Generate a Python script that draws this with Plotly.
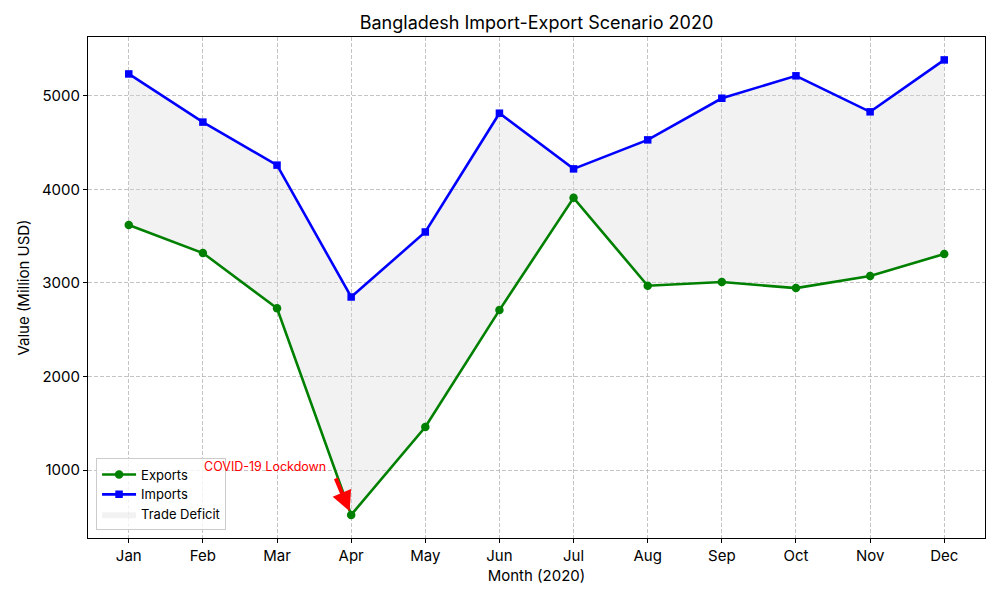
import plotly.graph_objects as go

months = ["Jan", "Feb", "Mar", "Apr", "May", "Jun", "Jul", "Aug", "Sep", "Oct", "Nov", "Dec"]
exports = [3620, 3320, 2730, 520, 1460, 2710, 3910, 2970, 3010, 2945, 3075, 3310]
imports = [5235, 4720, 4260, 2850, 3545, 4815, 4220, 4530, 4975, 5215, 4830, 5385]

FONT = "Inter, DejaVu Sans, sans-serif"

fig = go.Figure()
# fill base (hidden)
fig.add_trace(go.Scatter(x=months, y=exports, mode="lines", line=dict(width=0, color="rgba(0,0,0,0)"),
                         showlegend=False, hoverinfo="skip"))
fig.add_trace(go.Scatter(x=months, y=imports, mode="lines", line=dict(width=0, color="rgba(0,0,0,0)"),
                         fill="tonexty", fillcolor="rgba(211,211,211,0.3)", name="Trade Deficit",
                         legendrank=3))
fig.add_trace(go.Scatter(x=months, y=exports, mode="lines+markers", name="Exports",
                         line=dict(color="green", width=2.6),
                         marker=dict(symbol="circle", size=8.5, color="green"), legendrank=1))
fig.add_trace(go.Scatter(x=months, y=imports, mode="lines+markers", name="Imports",
                         line=dict(color="blue", width=2.6),
                         marker=dict(symbol="square", size=7.5, color="blue"), legendrank=2))

# annotation text and arrow
fig.add_annotation(x=months[3], y=exports[3], text="", showarrow=True,
                   ax=-16, ay=-38, arrowhead=2, arrowsize=1, arrowwidth=4,
                   arrowcolor="red", standoff=4)
fig.add_annotation(x=0.99, y=1040, xref="x", yref="y", text="COVID-19 Lockdown",
                   showarrow=False, xanchor="left", yanchor="middle",
                   font=dict(color="red", size=12.5, family=FONT))

axis_common = dict(showline=True, linecolor="black", linewidth=1, mirror=True,
                   ticks="outside", ticklen=4, tickcolor="black",
                   showgrid=True, gridcolor="rgba(176,176,176,0.75)", griddash="4px,2px", gridwidth=1,
                   zeroline=False, tickfont=dict(size=15, color="black", family=FONT))

fig.update_layout(
    width=1000, height=600,
    margin=dict(l=88, r=15, t=37, b=62),
    paper_bgcolor="white", plot_bgcolor="white",
    font=dict(family=FONT, color="black"),
    title=dict(text="Bangladesh Import-Export Scenario 2020", x=0.5365, xanchor="center",
               y=0.963, yanchor="middle", font=dict(size=18, color="black", family=FONT)),
    xaxis=dict(range=[-0.55, 11.55], title=dict(text="Month (2020)", font=dict(size=15), standoff=6),
               **axis_common),
    yaxis=dict(range=[273, 5630], tickvals=[1000, 2000, 3000, 4000, 5000],
               title=dict(text="Value (Million USD)", font=dict(size=15), standoff=8),
               **axis_common),
    legend=dict(x=0.009, y=0.015, xanchor="left", yanchor="bottom", traceorder="normal",
                bgcolor="rgba(255,255,255,0.8)", bordercolor="#cccccc", borderwidth=1,
                font=dict(size=13, family=FONT), tracegroupgap=0, itemwidth=34),
    showlegend=True,
)

fig.write_html("out.html")
